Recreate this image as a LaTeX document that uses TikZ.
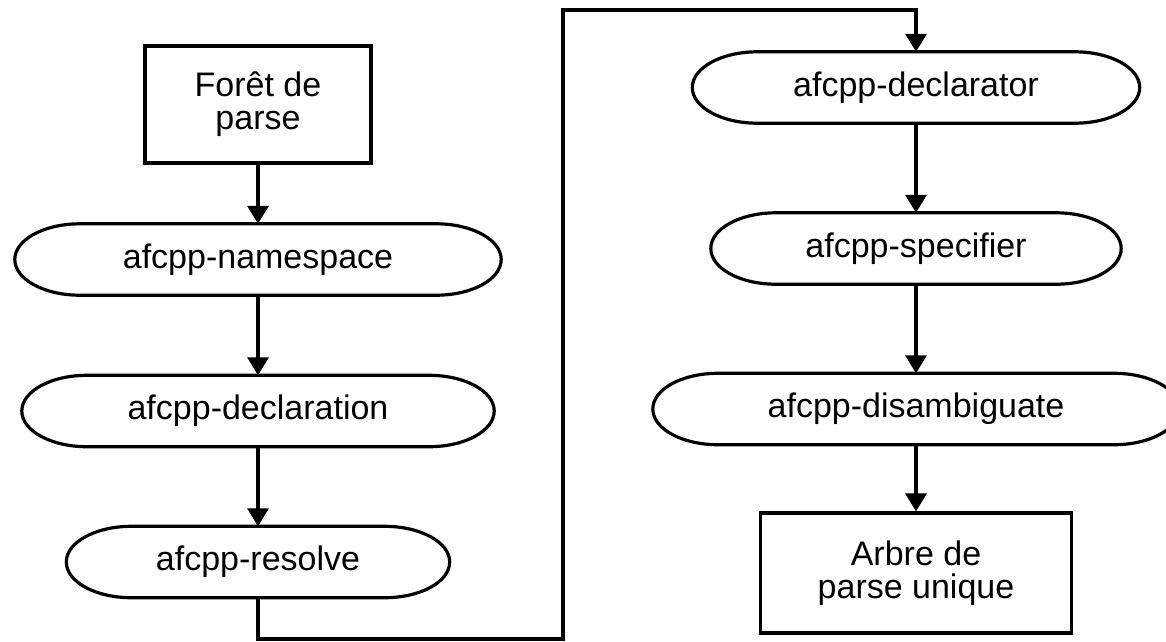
\documentclass[tikz,border=0pt]{standalone}
\usepackage{fontspec}
\setmainfont{Liberation Sans}
\usetikzlibrary{arrows.meta,calc}
\newcommand{\rxend}{65pt}
\newcommand{\stadiumoutline}[1]{%
  \draw[outline] let \p1=(#1.north), \p2=(#1.south), \n1={(\y1-\y2)/2} in
    ([xshift=\rxend]#1.north west) -- ([xshift=-\rxend]#1.north east)
    arc[start angle=90, end angle=-90, x radius=\rxend, y radius=\n1]
    -- ([xshift=\rxend]#1.south west)
    arc[start angle=270, end angle=90, x radius=\rxend, y radius=\n1] -- cycle;}
\begin{document}
\begin{tikzpicture}[x=1pt,y=1pt,
  outline/.style={line width=3.2pt},
  txt/.style={font=\fontsize{34}{33}\selectfont, align=center, inner sep=0pt},
  boxnode/.style={txt, draw, outline, minimum width=#1},
  stad/.style={txt, minimum width=#1, minimum height=71pt},
  conn/.style={line width=3.2pt, -{Triangle[width=21pt,length=18pt]}}
]
\useasboundingbox (0,0) rectangle (1166,-641);

\node[boxnode=226pt, minimum height=117pt] (foret) at (258,-104.5) {Forêt de\\parse};
\node[stad=486pt] (ns)   at (258,-259.5) {afcpp-namespace};
\node[stad=472pt] (decl) at (258,-411)   {afcpp-declaration};
\node[stad=383pt] (res)  at (258,-562)   {afcpp-resolve};

\node[stad=447pt] (dtor) at (916,-87.5)  {afcpp-declarator};
\node[stad=410pt] (spec) at (916,-248.5) {afcpp-specifier};
\node[stad=526pt] (dis)  at (916,-409)   {afcpp-disambiguate};
\node[boxnode=311pt, minimum height=120pt] (arbre) at (916,-573) {Arbre de\\parse unique};

\stadiumoutline{ns}
\stadiumoutline{decl}
\stadiumoutline{res}
\stadiumoutline{dtor}
\stadiumoutline{spec}
\stadiumoutline{dis}

\coordinate (c1) at (258,-639);
\coordinate (c2) at (563,-639);
\coordinate (c3) at (563,-10);
\coordinate (c4) at (916,-10);

\draw[conn] (foret.south) -- (ns.north);
\draw[conn] (ns.south) -- (decl.north);
\draw[conn] (decl.south) -- (res.north);
\draw[conn] (res.south) -- (c1) -- (c2) -- (c3) -- (c4) -- (dtor.north);
\draw[conn] (dtor.south) -- (spec.north);
\draw[conn] (spec.south) -- (dis.north);
\draw[conn] (dis.south) -- (arbre.north);
\end{tikzpicture}
\end{document}
